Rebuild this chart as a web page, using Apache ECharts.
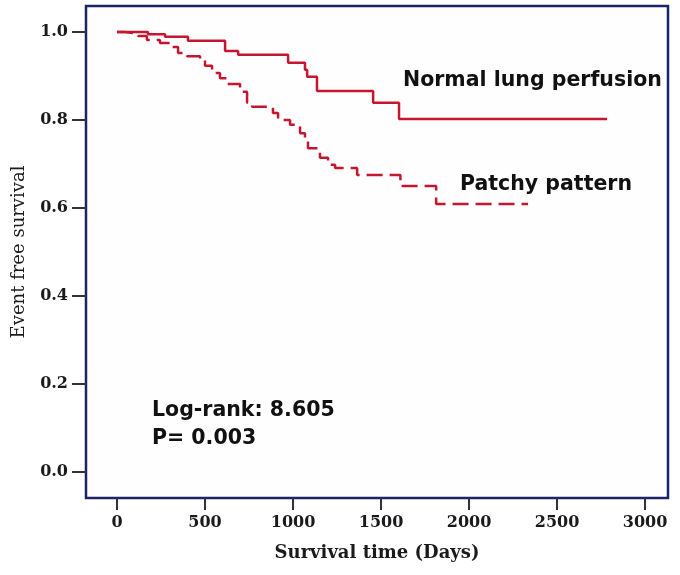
<!DOCTYPE html>
<html>
<head>
<meta charset="utf-8">
<script src="https://cdn.jsdelivr.net/npm/echarts@6/dist/echarts.min.js"></script>
<style>
html,body{margin:0;padding:0;background:#fff;}
#chart{width:680px;height:575px;}
</style>
</head>
<body>
<div id="chart"></div>
<script>
// Kaplan-Meier step data (time in days, event free survival after each step)
var normalTimes = [0, 176, 273, 403, 614, 688, 972, 1068, 1080, 1136, 1455, 1602, 2784];
var normalSurv  = [1.0, 0.995, 0.989, 0.980, 0.957, 0.948, 0.930, 0.914, 0.898, 0.866, 0.839, 0.802, 0.802];

var patchyTimes = [0, 45, 119, 170, 244, 301, 347, 398, 472, 500, 540, 585, 625, 699, 739, 767, 886, 915, 983, 1040, 1068, 1085, 1153, 1199, 1239, 1364, 1610, 1813, 2335];
var patchySurv  = [1.0, 0.996, 0.991, 0.982, 0.975, 0.966, 0.952, 0.945, 0.936, 0.923, 0.907, 0.895, 0.882, 0.864, 0.839, 0.830, 0.816, 0.800, 0.789, 0.770, 0.752, 0.736, 0.714, 0.698, 0.691, 0.675, 0.650, 0.609, 0.609];

var xTicks = [0, 500, 1000, 1500, 2000, 2500, 3000];
var yTicks = [0.0, 0.2, 0.4, 0.6, 0.8, 1.0];

var seriesNames = ['Normal lung perfusion', 'Patchy pattern'];
var annotationLines = ['Log-rank: 8.605', 'P= 0.003'];
var xAxisTitle = 'Survival time (Days)';
var yAxisTitle = 'Event free survival';

function pairs(t, s) { return t.map(function (v, i) { return [v, s[i]]; }); }

var chart = echarts.init(document.getElementById('chart'), null, {renderer: 'canvas'});
var lineColor = '#c4162e';
var tickFont = {fontFamily: 'DejaVu Serif', fontWeight: 'bold', fontSize: 16, color: '#1a1a1a'};
var annFont = 'bold 20.5px "DejaVu Sans"';

chart.setOption({
  backgroundColor: '#ffffff',
  animation: false,
  grid: {
    left: 86, top: 6, right: 12, bottom: 77,
    show: true, borderColor: '#1c2266', borderWidth: 2.5, backgroundColor: '#fefefe'
  },
  xAxis: {
    type: 'value', min: -176, max: 3130,
    name: xAxisTitle, nameLocation: 'middle', nameGap: 46,
    nameTextStyle: {fontFamily: 'DejaVu Serif', fontWeight: 'bold', fontSize: 18, color: '#1a1a1a'},
    axisLine: {show: false, onZero: false},
    axisTick: {show: true, inside: false, length: 12, customValues: xTicks, lineStyle: {color: '#333', width: 2}},
    axisLabel: Object.assign({customValues: xTicks, margin: 17, formatter: function (v) { return String(v); }}, tickFont),
    splitLine: {show: false}
  },
  yAxis: {
    type: 'value', min: -0.059, max: 1.059,
    name: yAxisTitle, nameLocation: 'middle', nameGap: 58, nameRotate: 90,
    nameTextStyle: {fontFamily: 'DejaVu Serif', fontSize: 18, color: '#1a1a1a'},
    axisLine: {show: false, onZero: false},
    axisTick: {show: true, inside: false, length: 14, customValues: yTicks, lineStyle: {color: '#333', width: 2}},
    axisLabel: Object.assign({customValues: yTicks, margin: 18, formatter: function (v) { return v.toFixed(1); }}, tickFont),
    splitLine: {show: false}
  },
  series: [
    {
      name: seriesNames[0], type: 'line', step: 'end', showSymbol: false,
      data: pairs(normalTimes, normalSurv),
      lineStyle: {color: lineColor, width: 2.5, type: 'solid'}
    },
    {
      name: seriesNames[1], type: 'line', step: 'end', showSymbol: false,
      data: pairs(patchyTimes, patchySurv),
      lineStyle: {color: lineColor, width: 2.5, type: [16, 7]}
    }
  ],
  graphic: [
    {type: 'text', left: 403, top: 70, style: {text: seriesNames[0], font: annFont, fill: '#111'}},
    {type: 'text', left: 460, top: 174, style: {text: seriesNames[1], font: annFont, fill: '#111'}},
    {type: 'text', left: 152, top: 400, style: {text: annotationLines[0], font: annFont, fill: '#111'}},
    {type: 'text', left: 152, top: 428, style: {text: annotationLines[1], font: annFont, fill: '#111'}}
  ]
});
</script>
</body>
</html>
